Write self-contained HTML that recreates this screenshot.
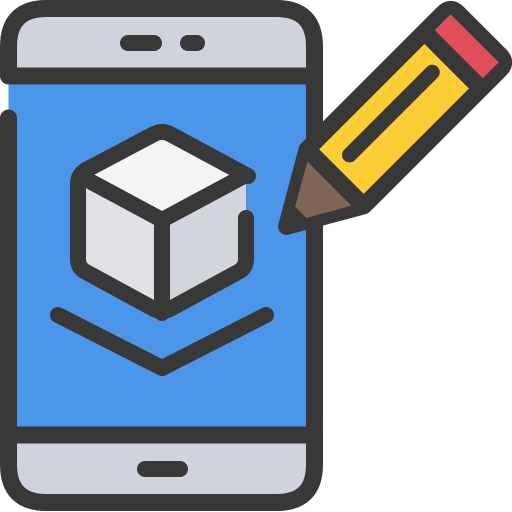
<!DOCTYPE html>
<html><head><style>html,body{margin:0;padding:0;background:#fff;width:512px;height:512px;overflow:hidden}</style></head>
<body>
<svg width="512" height="512" viewBox="0 0 512 512" xmlns="http://www.w3.org/2000/svg">
<defs><clipPath id="ph"><rect x="8.5" y="8.5" width="306" height="494" rx="38"/></clipPath></defs>
<g clip-path="url(#ph)">
<rect x="0" y="0" width="330" height="512" fill="#4b96e8"/>
<rect x="0" y="0" width="330" height="76" fill="#d0d3dc"/>
<rect x="0" y="435" width="330" height="80" fill="#d0d3dc"/>
</g>
<g fill="none" stroke="#383838" stroke-width="17" stroke-linecap="round" stroke-linejoin="round">
<path d="M8.5,76 L8.5,46.5 Q8.5,8.5 46.5,8.5 L276.5,8.5 Q314.5,8.5 314.5,46.5 L314.5,464.5 Q314.5,502.5 276.5,502.5 L46.5,502.5 Q8.5,502.5 8.5,464.5 L8.5,118" />
<line x1="8.5" y1="76" x2="314.5" y2="76" stroke-linecap="butt"/>
<line x1="8.5" y1="435" x2="314.5" y2="435" stroke-linecap="butt"/>
</g>
<g stroke="#383838" stroke-width="16" stroke-linecap="round">
<line x1="128" y1="43" x2="154" y2="43"/>
<line x1="188" y1="43" x2="197" y2="43"/>
<line x1="145" y1="469" x2="180" y2="469"/>
</g>
<polygon points="162,130 246,175 162,220 78,175" fill="#f3f4f6"/>
<polygon points="78,175 162,220 162,313 78,268" fill="#dfe1e6"/>
<polygon points="246,175 162,220 162,313 246,268" fill="#d3d5dc"/>
<g fill="none" stroke="#383838" stroke-width="16" stroke-linecap="round" stroke-linejoin="round">
<path d="M248,176 L170,134 Q162,130 154,134 L86,170 Q78,175 78,184 L78,259 Q78,268 86,272 L154,309 Q162,313 170,309 L238,272 Q246,268 246,259 L246,218"/>
<path d="M82,177 L162,220 L244,176"/>
<line x1="162" y1="220" x2="162" y2="313"/>
<path d="M58,315 L162,368 L266,315"/>
</g>
<g transform="translate(288,225) rotate(-45)">
<path d="M-2,0 L67,-40 L260,-40 Q270,-40 270,-30 L270,30 Q270,40 260,40 L67,40 Z" fill="#fdcd35" stroke="#383838" stroke-width="17" stroke-linejoin="round"/>
<polygon points="4,0 67,-36 67,36" fill="#7f6654"/>
<rect x="232" y="-34" width="32" height="68" fill="#e04f5a"/>
<g stroke="#383838" stroke-width="17">
<line x1="67" y1="-42" x2="67" y2="42"/>
<line x1="233" y1="-42" x2="233" y2="42"/>
</g>
<line x1="93" y1="-6" x2="210" y2="-6" stroke="#383838" stroke-width="15" stroke-linecap="round"/>
<path d="M-6,0 L14,-13 L14,13 Z" fill="#383838" stroke="#383838" stroke-width="8" stroke-linejoin="round"/>
</g>
</svg>
</body></html>
